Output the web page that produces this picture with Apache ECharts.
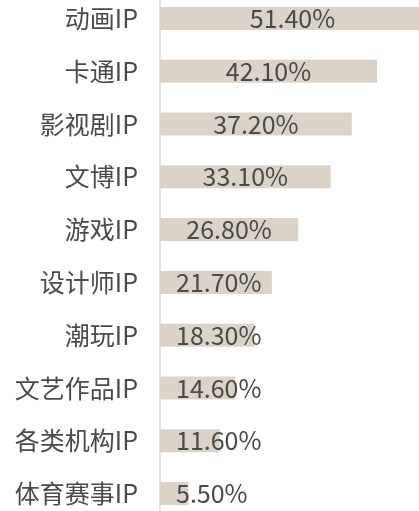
<!DOCTYPE html>
<html>
<head>
<meta charset="utf-8">
<script src="https://cdn.jsdelivr.net/npm/echarts@6/dist/echarts.min.js"></script>
<style>
  html, body { margin: 0; padding: 0; background: #fff; overflow: hidden; }
  /* 图表区域比窗口略大，首尾条形贴边 */
  #ipStat { position: absolute; left: 0; top: -8px; width: 425px; height: 528px; }
</style>
</head>
<body>
<div id="ipStat"></div>
<script>
// IP类型占比
const categories = ['动画IP', '卡通IP', '影视剧IP', '文博IP', '游戏IP', '设计师IP', '潮玩IP', '文艺作品IP', '各类机构IP', '体育赛事IP']
const values = [51.4, 42.1, 37.2, 33.1, 26.8, 21.7, 18.3, 14.6, 11.6, 5.5]

const chart = echarts.init(document.getElementById('ipStat'))

const fontFamily = '"Noto Sans CJK SC", "Noto Sans", sans-serif'

// 短条的标签靠左放
const barData = values.map(v => ({
  value: v,
  label: v < 25 ? { position: 'insideLeft', distance: 16 } : { position: 'inside' }
}))

chart.setOption({
  animation: false,
  grid: {
    left: 160,
    right: 0,
    top: 0,
    bottom: 0,
    containLabel: false
  },
  xAxis: {
    type: 'value',
    min: 0,
    max: 51.4,
    show: false
  },
  yAxis: {
    type: 'category',
    inverse: true,
    data: categories,
    axisLine: {
      show: true,
      lineStyle: { color: '#e3e3e3', width: 2 }
    },
    axisTick: { show: false },
    axisLabel: {
      color: '#4a4a4a',
      fontSize: 25,
      fontFamily: fontFamily,
      margin: 22
    }
  },
  series: [
    {
      type: 'bar',
      data: barData,
      barWidth: 23,
      itemStyle: { color: '#dcd3c8' },
      label: {
        show: true,
        color: '#4a4a4a',
        fontSize: 25,
        fontFamily: fontFamily,
        formatter: p => p.value.toFixed(2) + '%'
      }
    }
  ]
})

window.addEventListener('resize', () => chart.resize())
</script>
</body>
</html>
